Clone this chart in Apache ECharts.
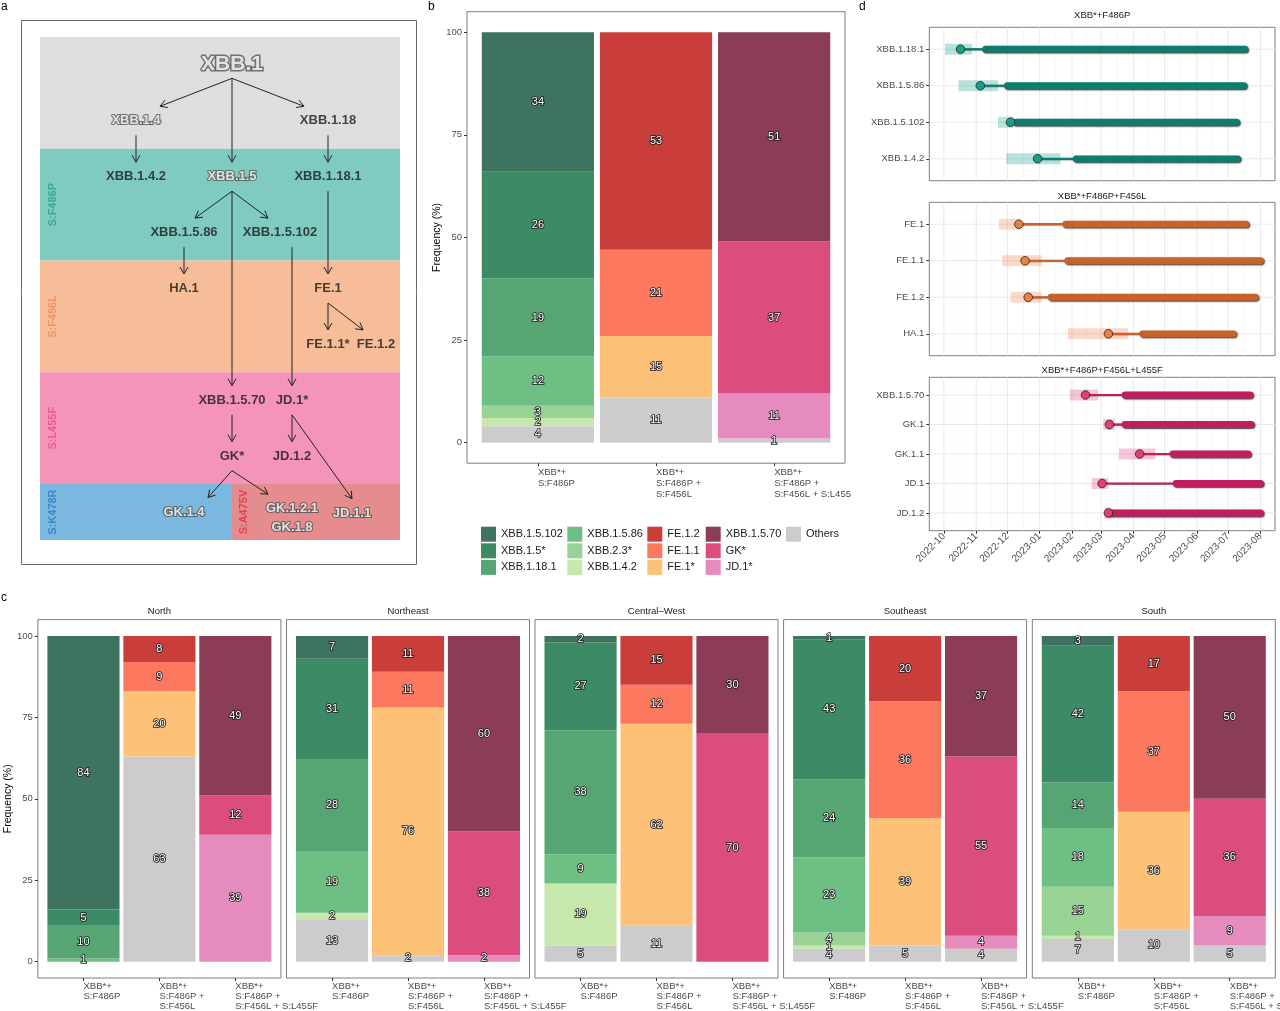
<!DOCTYPE html>
<html><head><meta charset="utf-8">
<script src="https://cdn.jsdelivr.net/npm/echarts@6/dist/echarts.min.js"></script>
<style>html,body{margin:0;padding:0;background:#fff}#chart{width:1280px;height:1011px}</style>
</head><body><div id="chart"></div>
<script>
// ================= DATA =================
const lineages = ['XBB.1.5.102','XBB.1.5*','XBB.1.18.1','XBB.1.5.86','XBB.2.3*','XBB.1.4.2','FE.1.2','FE.1.1','FE.1*','XBB.1.5.70','GK*','JD.1*','Others'];
const groupLabels = ['XBB*+\nS:F486P','XBB*+\nS:F486P +\nS:F456L','XBB*+\nS:F486P +\nS:F456L + S:L455F'];
const yTicks = [0,25,50,75,100];

// panel b (values per lineage, in lineage order)
const overallF486P = [34,26,19,12,3,2,0,0,0,0,0,0,4];
const overallF456L = [0,0,0,0,0,0,53,21,15,0,0,0,11];
const overallL455F = [0,0,0,0,0,0,0,0,0,51,37,11,1];

// panel c
const regions = ['North','Northeast','Central\u2013West','Southeast','South'];
const northF486P = [84,5,10,1,0,0,0,0,0,0,0,0,0];
const northF456L = [0,0,0,0,0,0,8,9,20,0,0,0,63];
const northL455F = [0,0,0,0,0,0,0,0,0,49,12,39,0];
const northeastF486P = [7,31,28,19,0,2,0,0,0,0,0,0,13];
const northeastF456L = [0,0,0,0,0,0,11,11,76,0,0,0,2];
const northeastL455F = [0,0,0,0,0,0,0,0,0,60,38,2,0];
const centralWestF486P = [2,27,38,9,0,19,0,0,0,0,0,0,5];
const centralWestF456L = [0,0,0,0,0,0,15,12,62,0,0,0,11];
const centralWestL455F = [0,0,0,0,0,0,0,0,0,30,70,0,0];
const southeastF486P = [1,43,24,23,4,1,0,0,0,0,0,0,4];
const southeastF456L = [0,0,0,0,0,0,20,36,39,0,0,0,5];
const southeastL455F = [0,0,0,0,0,0,0,0,0,37,55,4,4];
const southF486P = [3,42,14,18,15,1,0,0,0,0,0,0,7];
const southF456L = [0,0,0,0,0,0,17,37,36,0,0,0,10];
const southL455F = [0,0,0,0,0,0,0,0,0,50,36,9,5];

// panel d
const dTitles = ['XBB*+F486P','XBB*+F486P+F456L','XBB*+F486P+F456L+L455F'];
const d1Lineages = ['XBB.1.18.1','XBB.1.5.86','XBB.1.5.102','XBB.1.4.2'];
const d1CiLow  = ['2022-10-02','2022-10-15','2022-11-22','2022-11-30'];
const d1CiHigh = ['2022-10-28','2022-11-22','2022-12-07','2023-01-21'];
const d1Emerge = ['2022-10-17','2022-11-05','2022-12-04','2022-12-30'];
const d1Rise   = ['2022-11-10','2022-12-01','2022-12-09','2023-02-05'];
const d1Last   = ['2023-07-17','2023-07-16','2023-07-09','2023-07-10'];
const d2Lineages = ['FE.1','FE.1.1','FE.1.2','HA.1'];
const d2CiLow  = ['2022-11-23','2022-11-26','2022-12-04','2023-01-28'];
const d2CiHigh = ['2022-12-14','2023-01-03','2023-01-03','2023-03-27'];
const d2Emerge = ['2022-12-12','2022-12-18','2022-12-21','2023-03-08'];
const d2Rise   = ['2023-01-26','2023-01-28','2023-01-12','2023-04-10'];
const d2Last   = ['2023-07-18','2023-08-01','2023-07-27','2023-07-06'];
const d3Lineages = ['XBB.1.5.70','GK.1','GK.1.1','JD.1','JD.1.2'];
const d3CiLow  = ['2023-01-30','2023-03-03','2023-03-18','2023-02-20','2023-03-04'];
const d3CiHigh = ['2023-02-26','2023-03-14','2023-04-22','2023-03-08','2023-03-11'];
const d3Emerge = ['2023-02-14','2023-03-09','2023-04-07','2023-03-02','2023-03-08'];
const d3Rise   = ['2023-03-24','2023-03-24','2023-05-09','2023-05-12','2023-03-10'];
const d3Last   = ['2023-07-22','2023-07-23','2023-07-20','2023-08-01','2023-08-01'];
const monthTicks = ['2022-10-01','2022-11-01','2022-12-01','2023-01-01','2023-02-01','2023-03-01','2023-04-01','2023-05-01','2023-06-01','2023-07-01','2023-08-01'];

// panel a (lineage tree; columns / rows in diagram units)
const treeNodes = ['XBB.1','XBB.1.4','XBB.1.18','XBB.1.4.2','XBB.1.5','XBB.1.18.1','XBB.1.5.86','XBB.1.5.102','HA.1','FE.1','FE.1.1*','FE.1.2','XBB.1.5.70','JD.1*','GK*','JD.1.2','GK.1.4','GK.1.2.1','GK.1.8','JD.1.1'];
const treeCol  = [8,4,12,4,8,12,6,10,6,12,12,14,8,10.5,8,10.5,6,10.5,10.5,13];
const treeRow  = [0.48,1.5,1.5,2.5,2.5,2.5,3.5,3.5,4.5,4.5,5.5,5.5,6.5,6.5,7.5,7.5,8.5,8.44,8.78,8.52];
const treeEdges = [['XBB.1','XBB.1.4'],['XBB.1','XBB.1.5'],['XBB.1','XBB.1.18'],['XBB.1.4','XBB.1.4.2'],['XBB.1.18','XBB.1.18.1'],
  ['XBB.1.5','XBB.1.5.86'],['XBB.1.5','XBB.1.5.102'],['XBB.1.5','XBB.1.5.70'],['XBB.1.5.86','HA.1'],['XBB.1.5.102','JD.1*'],
  ['XBB.1.18.1','FE.1'],['FE.1','FE.1.1*'],['FE.1','FE.1.2'],['XBB.1.5.70','GK*'],['JD.1*','JD.1.2'],['JD.1*','JD.1.1'],
  ['GK*','GK.1.4'],['GK*','GK.1.2.1']];
const treeBandNames = ['ancestral','S:F486P','S:F456L','S:L455F','S:K478R','S:A475V'];
const treeBandCols = [[0,15],[0,15],[0,15],[0,15],[0,8],[8,15]];
const treeBandRows = [[0,2],[2,4],[4,6],[6,8],[8,9],[8,9]];
const mutationLabelCol = [0.55,0.55,0.55,0.55,8.5];
const mutationLabelRow = [3,5,7,8.5,8.5];

// ================= STYLE =================
const FONT = 'Liberation Sans';
const lineageColors = ['#3d735f','#3c8a66','#57a572','#6dbf84','#98d395','#c6e8ad','#c93e3b','#fc785e','#fdc177','#8b3d58','#db4c7f','#e68bbd','#cccccc'];
const bandColors = ['#dedede','#80cbc0','#f6bd98','#f594b9','#7ab8e0','#e58c8f'];
const mutColors = ['#1fa38f','#f08a4e','#e94b8a','#2a7bc0','#e0313f'];
const outlinedNodes = ['XBB.1','XBB.1.4','XBB.1.5','GK.1.4','GK.1.2.1','GK.1.8','JD.1.1'];
const edgeReach = [0.75,1,0.75,1,1,0.77,0.75,1,1,1,1,1,0.73,1,1,1,0.5,0.6];
const edgeFromCol = [null,null,null,null,null,null,null,null,null,10.5,null,null,null,null,null,null,null,null];
const dPalettes = [
  {ci:'rgba(38,166,150,0.33)', line:'#0f7d6d', point:'#17a08b'},
  {ci:'rgba(240,140,90,0.33)', line:'#c8612a', point:'#ec8040'},
  {ci:'rgba(230,80,140,0.33)', line:'#bf1f5d', point:'#e23e78'}
];
const frameColor = '#7f7f7f';
const tickColor = '#333333';
const labColor = '#4d4d4d';
const BAR_HALF = 0.475;

// ================= BUILD =================
const ts = s => Date.parse(s + 'T00:00:00Z');
const grids = [], xAxes = [], yAxes = [], series = [], graphics = [];
function addGrid(g){ grids.push(Object.assign({containLabel:false, outerBoundsMode:'none'}, g)); return grids.length - 1; }

// ---- panel a ----
const gA = addGrid({left:40, top:37, width:360, height:503, show:false});
xAxes.push({type:'value', gridIndex:gA, min:0, max:15, show:false});
yAxes.push({type:'value', gridIndex:gA, min:0, max:9, inverse:true, show:false});
series.push({
  type:'custom', xAxisIndex:gA, yAxisIndex:gA, silent:true, z:1,
  data: treeBandNames.map((n,i)=>({name:n, value:[treeBandCols[i][0],treeBandRows[i][0],treeBandCols[i][1],treeBandRows[i][1]]})),
  encode:{x:[0,2], y:[1,3]},
  renderItem:(p, api)=>{
    const a = api.coord([api.value(0), api.value(1)]), b = api.coord([api.value(2), api.value(3)]);
    return {type:'rect', shape:{x:a[0], y:a[1], width:b[0]-a[0], height:b[1]-a[1]}, style:{fill:bandColors[p.dataIndex]}};
  }
});
series.push({
  type:'scatter', xAxisIndex:gA, yAxisIndex:gA, silent:true, z:3, symbolSize:1, itemStyle:{color:'transparent'},
  data: treeBandNames.slice(1).map((n,i)=>({name:n, value:[mutationLabelCol[i], mutationLabelRow[i]],
    label:{show:true, position:'inside', rotate:90, formatter:n, color:mutColors[i], fontFamily:FONT, fontSize:11, fontWeight:'bold'}}))
});
const nodeIdx = n => treeNodes.indexOf(n);
series.push({
  type:'custom', xAxisIndex:gA, yAxisIndex:gA, silent:true, z:4,
  data: treeEdges.map((e,i)=>{
    const f = nodeIdx(e[0]), t = nodeIdx(e[1]);
    const fc = edgeFromCol[i] == null ? treeCol[f] : edgeFromCol[i];
    return [fc, treeRow[f] + 0.26, fc + edgeReach[i]*(treeCol[t]-fc), treeRow[t] - 0.26];
  }),
  encode:{x:[0,2], y:[1,3]},
  renderItem:(p, api)=>{
    const s = api.coord([api.value(0), api.value(1)]), e = api.coord([api.value(2), api.value(3)]);
    const ang = Math.atan2(e[1]-s[1], e[0]-s[0]), L = 8, A = Math.PI/6;
    const h1 = [e[0]-L*Math.cos(ang-A), e[1]-L*Math.sin(ang-A)];
    const h2 = [e[0]-L*Math.cos(ang+A), e[1]-L*Math.sin(ang+A)];
    return {type:'group', children:[
      {type:'line', shape:{x1:s[0], y1:s[1], x2:e[0], y2:e[1]}, style:{stroke:'#222', lineWidth:1}},
      {type:'polyline', shape:{points:[h1, e, h2]}, style:{stroke:'#222', lineWidth:1, fill:null}}
    ]};
  }
});
series.push({
  type:'scatter', xAxisIndex:gA, yAxisIndex:gA, silent:true, z:5, symbolSize:1, itemStyle:{color:'transparent'},
  data: treeNodes.map((n,i)=>{
    const out = outlinedNodes.indexOf(n) >= 0;
    return {name:n, value:[treeCol[i], treeRow[i]], label:{show:true, position:'inside', formatter:n, fontFamily:FONT, fontWeight:'bold',
      fontSize: n === 'XBB.1' ? 21 : 13, color: out ? '#ffffff' : '#1a1a1a',
      textBorderColor: out ? '#555555' : 'transparent', textBorderWidth: out ? (n === 'XBB.1' ? 3 : 2.2) : 0}};
  })
});
graphics.push({type:'rect', silent:true, shape:{x:21.5, y:20.5, width:395, height:544}, style:{fill:'none', stroke:'#6a6a6a', lineWidth:1}});

// ---- stacked bar panels (b, c) ----
function barPanel(grid, groups, showY, labelTrunc, labelMargin, labelLH){
  const gi = addGrid(grid);
  const xLabel = {show:true, customValues:[1,2,3], formatter:v=>groupLabels[Math.round(v)-1], align:'left', verticalAlign:'top',
      color:labColor, fontFamily:FONT, fontSize:9.5, lineHeight:labelLH, margin:labelMargin};
  if (labelTrunc) { xLabel.width = 79; xLabel.overflow = 'truncate'; xLabel.ellipsis = ''; }
  xAxes.push({type:'value', gridIndex:gi, min:0.4, max:3.6,
    axisLine:{show:false, onZero:false}, splitLine:{show:false},
    axisTick:{show:true, customValues:[1,2,3], length:3, lineStyle:{color:tickColor}},
    axisLabel:xLabel});
  yAxes.push({type:'value', gridIndex:gi, min:-5, max:105,
    axisLine:{show:false, onZero:false}, splitLine:{show:false},
    axisTick:{show:showY, customValues:yTicks, length:3, lineStyle:{color:tickColor}},
    axisLabel:{show:showY, customValues:yTicks, color:labColor, fontFamily:FONT, fontSize:9.5, margin:5},
    name: showY ? 'Frequency (%)' : '', nameLocation:'middle', nameGap:16,
    nameTextStyle:{color:'#000', fontFamily:FONT, fontSize:10.5}});
  const cum = groups.map(()=>0);
  const labelData = [];
  for (let li = lineages.length - 1; li >= 0; li--) {
    const data = groups.map((arr,g)=>{
      const v = arr[li], base = cum[g]; cum[g] += v;
      if (v > 0) labelData.push([g+1, base + v/2, v]);
      return [g+1, base, base + v, v];
    });
    series.push({type:'custom', name:lineages[li], xAxisIndex:gi, yAxisIndex:gi, z:2, silent:true,
      itemStyle:{color:lineageColors[li]}, data:data, encode:{x:0, y:[1,2]},
      renderItem:(p, api)=>{
        if (!(api.value(3) > 0)) return null;
        const a = api.coord([api.value(0)-BAR_HALF, api.value(1)]), b = api.coord([api.value(0)+BAR_HALF, api.value(2)]);
        return {type:'rect', shape:{x:a[0], y:b[1], width:b[0]-a[0], height:a[1]-b[1]}, style:{fill:api.visual('color')}};
      }});
  }
  series.push({type:'custom', xAxisIndex:gi, yAxisIndex:gi, z:4, silent:true, data:labelData, encode:{x:0, y:1},
    renderItem:(p, api)=>{
      const c = api.coord([api.value(0), api.value(1)]);
      return {type:'text', x:c[0], y:c[1], style:{text:String(api.value(2)), fill:'#ffffff', stroke:'#1a1a1a', lineWidth:1.7,
        align:'center', verticalAlign:'middle', font:'11px "'+FONT+'"'}};
    }});
}
barPanel({left:467, top:11.7, width:378, height:451.5, show:true, borderColor:frameColor, borderWidth:1},
  [overallF486P, overallF456L, overallL455F], true, true, 4, 11);
const regionGroups = [
  [northF486P, northF456L, northL455F],
  [northeastF486P, northeastF456L, northeastL455F],
  [centralWestF486P, centralWestF456L, centralWestL455F],
  [southeastF486P, southeastF456L, southeastL455F],
  [southF486P, southF456L, southL455F]];
const facetLeft = [37.9, 286.5, 535, 783.6, 1032.3];
regions.forEach((r,i)=>{
  barPanel({left:facetLeft[i], top:619.6, width:243, height:358.4, show:true, borderColor:frameColor, borderWidth:1},
    regionGroups[i], i === 0, false, 3.5, 10);
  graphics.push({type:'text', silent:true, x:facetLeft[i]+121.5, y:611,
    style:{text:r, fill:'#1a1a1a', font:'9.5px "'+FONT+'"', align:'center', verticalAlign:'middle'}});
});

// legend (panel b)
const legendCols = [[0,1,2],[3,4,5],[6,7,8],[9,10,11],[12]];
const legendLeft = [481, 567.3, 647.3, 705.7, 786];
const legends = legendCols.map((c,i)=>({orient:'vertical', left:legendLeft[i], top:526.7, padding:0, itemWidth:15, itemHeight:15, itemGap:1.6,
  icon:'rect', selectedMode:false, data:c.map(k=>lineages[k]), textStyle:{fontFamily:FONT, fontSize:11, color:'#1a1a1a'}}));

// ---- panel d ----
const dSets = [
  [d1Lineages, d1CiLow, d1CiHigh, d1Emerge, d1Rise, d1Last],
  [d2Lineages, d2CiLow, d2CiHigh, d2Emerge, d2Rise, d2Last],
  [d3Lineages, d3CiLow, d3CiHigh, d3Emerge, d3Rise, d3Last]];
const dTops = [27.3, 202.3, 377.3];
const monthTs = monthTicks.map(ts);
const minorTs = monthTs.slice(1).map((t,i)=>(t + monthTs[i]) / 2);
const pad2 = n => (n < 10 ? '0' : '') + n;
dSets.forEach((set, k)=>{
  const names = set[0], n = names.length, pal = dPalettes[k], last = k === 2;
  const gi = addGrid({left:929.3, top:dTops[k], width:345.7, height:153.4, show:true, borderColor:frameColor, borderWidth:1});
  xAxes.push({type:'value', gridIndex:gi, min:ts('2022-09-17'), max:ts('2023-08-15'), scale:true,
    axisLine:{show:false, onZero:false}, splitLine:{show:false},
    axisTick:{show:last, customValues:monthTs, length:3, lineStyle:{color:tickColor}},
    axisLabel:{show:last, customValues:monthTs, rotate:45, margin:4, color:labColor, fontFamily:FONT, fontSize:10,
      formatter:v=>{const d = new Date(v); return d.getUTCFullYear() + '-' + pad2(d.getUTCMonth()+1);}}});
  const cats = names.map((_,i)=>i+1);
  yAxes.push({type:'value', gridIndex:gi, min:0.4, max:n+0.6, inverse:true,
    axisLine:{show:false, onZero:false}, splitLine:{show:false},
    axisTick:{show:true, customValues:cats, length:3, lineStyle:{color:tickColor}},
    axisLabel:{show:true, customValues:cats, formatter:v=>names[Math.round(v)-1], color:labColor, fontFamily:FONT, fontSize:9.5, margin:5}});
  // grid lines
  series.push({type:'custom', xAxisIndex:gi, yAxisIndex:gi, silent:true, z:1,
    data: monthTs.map(t=>[t,1,1]).concat(minorTs.map(t=>[t,1,0])),
    encode:{x:0, y:1},
    renderItem:(p, api)=>{
      const cs = p.coordSys, x = api.coord([api.value(0), 1])[0], major = api.value(2) === 1;
      return {type:'line', shape:{x1:x, y1:cs.y, x2:x, y2:cs.y+cs.height},
        style:{stroke: major ? '#e6e6e6' : '#f2f2f2', lineWidth: major ? 0.9 : 0.6}};
    }});
  series.push({type:'custom', xAxisIndex:gi, yAxisIndex:gi, silent:true, z:1,
    data: cats.map(c=>[ts('2023-01-01'), c]),
    encode:{x:0, y:1},
    renderItem:(p, api)=>{
      const cs = p.coordSys, y = api.coord([api.value(0), api.value(1)])[1];
      return {type:'line', shape:{x1:cs.x, y1:y, x2:cs.x+cs.width, y2:y}, style:{stroke:'#e6e6e6', lineWidth:0.9}};
    }});
  // lineage timelines
  series.push({type:'custom', xAxisIndex:gi, yAxisIndex:gi, silent:true, z:3,
    data: names.map((nm,i)=>({name:nm, value:[i+1, ts(set[1][i]), ts(set[2][i]), ts(set[3][i]), ts(set[4][i]), ts(set[5][i])]})),
    encode:{x:[1,2,3,4,5], y:0},
    renderItem:(p, api)=>{
      const r = api.value(0);
      const lo = api.coord([api.value(1), r]), hi = api.coord([api.value(2), r]);
      const em = api.coord([api.value(3), r]), ri = api.coord([api.value(4), r]), en = api.coord([api.value(5), r]);
      return {type:'group', children:[
        {type:'rect', shape:{x:lo[0], y:lo[1]-5.5, width:hi[0]-lo[0], height:11}, style:{fill:pal.ci}},
        {type:'line', shape:{x1:em[0], y1:em[1], x2:ri[0], y2:ri[1]}, style:{stroke:pal.line, lineWidth:2.2,
          shadowColor:'rgba(0,0,0,0.4)', shadowBlur:1, shadowOffsetX:0.5, shadowOffsetY:0.5}},
        {type:'line', shape:{x1:ri[0], y1:ri[1], x2:en[0], y2:en[1]}, style:{stroke:pal.line, lineWidth:6.8, lineCap:'round',
          shadowColor:'rgba(0,0,0,0.75)', shadowBlur:1.5, shadowOffsetX:1, shadowOffsetY:1}},
        {type:'circle', shape:{cx:em[0], cy:em[1], r:4.3}, style:{fill:pal.point, stroke:'#1f1f1f', lineWidth:0.8}}
      ]};
    }});
  graphics.push({type:'text', silent:true, x:1102.2, y:[15, 196.5, 370][k],
    style:{text:dTitles[k], fill:'#1a1a1a', font:'9.5px "'+FONT+'"', align:'center', verticalAlign:'middle'}});
});

// panel letters
[['a',1,7],['b',428,7],['c',1,598],['d',859,7]].forEach(l=>{
  graphics.push({type:'text', silent:true, x:l[1], y:l[2],
    style:{text:l[0], fill:'#000', font:'12px "'+FONT+'"', align:'left', verticalAlign:'middle'}});
});

const chart = echarts.init(document.getElementById('chart'), null, {renderer:'canvas'});
chart.setOption({
  animation:false, backgroundColor:'#ffffff',
  textStyle:{fontFamily:FONT},
  grid:grids, xAxis:xAxes, yAxis:yAxes, legend:legends, series:series, graphic:graphics, tooltip:{show:false}
});
</script></body></html>
